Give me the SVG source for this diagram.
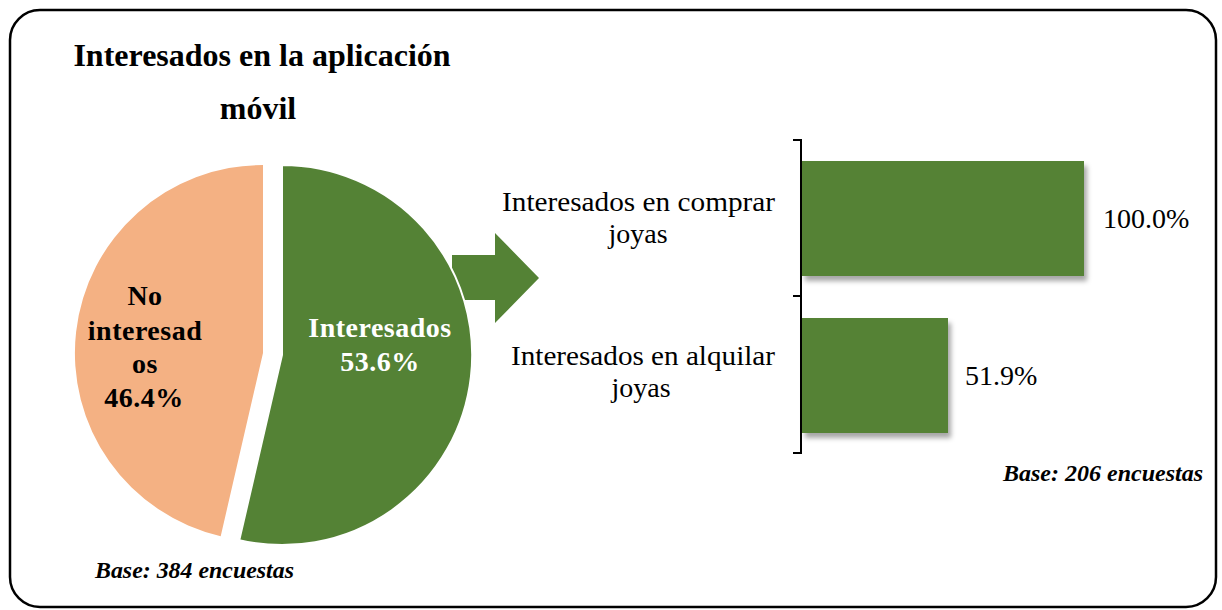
<svg xmlns="http://www.w3.org/2000/svg" width="1222" height="610" viewBox="0 0 1222 610">
<style>
.t{font-family:"Liberation Serif","Times New Roman",serif;fill:#000}
.b{font-weight:bold}
.bi{font-weight:bold;font-style:italic}
.w{fill:#fff}
.green{fill:#548235}
.orange{fill:#F4B183}
.axis{stroke:#000;stroke-width:2;fill:none}
</style>
<defs>
<filter id="sh" x="-10%" y="-10%" width="130%" height="140%">
<feDropShadow dx="3" dy="5" stdDeviation="2.5" flood-color="#000" flood-opacity="0.35"/>
</filter>
</defs>
<rect x="0" y="0" width="1222" height="610" fill="#fff"/>
<rect x="10" y="10" width="1206" height="597" rx="30" ry="30" fill="#fff" stroke="#000" stroke-width="2.5"/>
<g id="title">
<text class="t b" x="262" y="66" font-size="32" text-anchor="middle">Interesados en la aplicación</text>
<text class="t b" x="258" y="119" font-size="32" text-anchor="middle">móvil</text>
</g>
<g id="connectors">
<path id="arrow" class="green" d="M452,255 L495,255 L495,233 L539,278 L495,323 L495,300 L452,300 Z"/>
</g>
<g id="pie">
<g id="slice-interesados">
<path class="green" stroke="#fff" stroke-width="2" d="M282,355 L282,165 A190,190 0 1 1 239.3,540.1 Z"/>
<text class="t b w" x="380" y="337" font-size="28" text-anchor="middle" letter-spacing="0.5">Interesados</text>
<text class="t b w" x="380" y="371" font-size="28" text-anchor="middle" letter-spacing="0.5">53.6%</text>
</g>
<g id="slice-no-interesados">
<path class="orange" d="M263,353 L263,165 A188,188 0 0 0 220.7,536.2 Z"/>
<text class="t b" x="145" y="305" font-size="28" text-anchor="middle" letter-spacing="0.5">No</text>
<text class="t b" x="145" y="340" font-size="28" text-anchor="middle" letter-spacing="0.5">interesad</text>
<text class="t b" x="145" y="373" font-size="28" text-anchor="middle" letter-spacing="0.5">os</text>
<text class="t b" x="144" y="407" font-size="28" text-anchor="middle" letter-spacing="0.5">46.4%</text>
</g>
<text class="t bi" x="95" y="578" font-size="23" textLength="199" lengthAdjust="spacingAndGlyphs">Base: 384 encuestas</text>
</g>
<g id="bars">
<path class="axis" d="M793,140 L801,140 L801,453 L793,453 M793,296 L801,296"/>
<g id="bar-comprar">
<text class="t" x="502" y="211" font-size="28" textLength="273" lengthAdjust="spacingAndGlyphs">Interesados en comprar</text>
<text class="t" x="638" y="243" font-size="28" text-anchor="middle">joyas</text>
<rect class="green" x="802" y="161" width="282" height="115" filter="url(#sh)"/>
<text class="t" x="1103" y="228" font-size="28">100.0%</text>
</g>
<g id="bar-alquilar">
<text class="t" x="511" y="365" font-size="28" textLength="264" lengthAdjust="spacingAndGlyphs">Interesados en alquilar</text>
<text class="t" x="641" y="397" font-size="28" text-anchor="middle">joyas</text>
<rect class="green" x="802" y="318" width="146" height="115" filter="url(#sh)"/>
<text class="t" x="965" y="385" font-size="28">51.9%</text>
</g>
<text class="t bi" x="1003" y="481" font-size="23" textLength="200" lengthAdjust="spacingAndGlyphs">Base: 206 encuestas</text>
</g>
</svg>
